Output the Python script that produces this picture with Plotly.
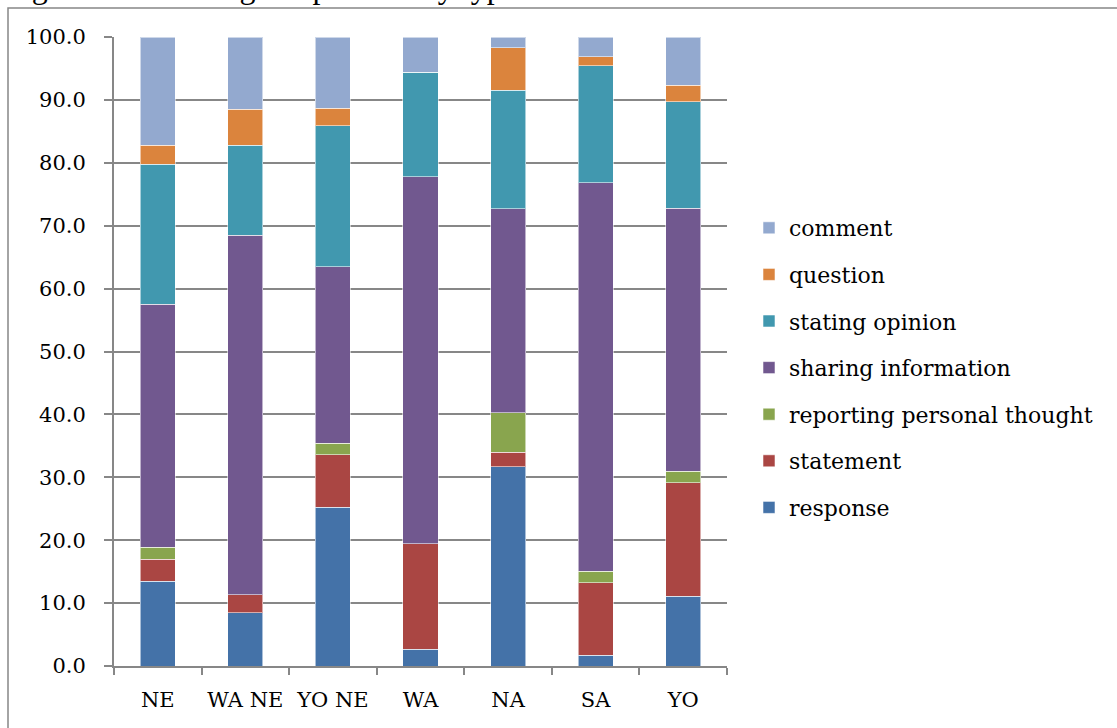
import plotly.graph_objects as go

# Groups on the x axis
groups = ["NE", "WA NE", "YO NE", "WA", "NA", "SA", "YO"]

# Percentage of each utterance type per group (stacked bottom to top)
response = [13.5, 8.5, 25.2, 2.7, 31.7, 1.7, 11.1]
statement = [3.5, 2.8, 8.4, 16.7, 2.3, 11.5, 18.0]
reporting_personal_thought = [1.9, 0.0, 1.8, 0.0, 6.3, 1.9, 1.9]
sharing_information = [38.6, 57.2, 28.1, 58.4, 32.4, 61.7, 41.8]
stating_opinion = [22.3, 14.3, 22.4, 16.6, 18.8, 18.6, 16.9]
question = [3.0, 5.7, 2.8, 0.0, 6.8, 1.5, 2.6]
comment = [17.2, 11.5, 11.3, 5.6, 1.7, 3.1, 7.7]

y_ticks = [0, 10, 20, 30, 40, 50, 60, 70, 80, 90, 100]

series = [
    ("response", response, "#4472A8"),
    ("statement", statement, "#AA4643"),
    ("reporting personal thought", reporting_personal_thought, "#89A54E"),
    ("sharing information", sharing_information, "#71588F"),
    ("stating opinion", stating_opinion, "#4198AF"),
    ("question", question, "#DB843D"),
    ("comment", comment, "#93A9CF"),
]

W, H = 1117, 728
L, R, T, B = 114, 390, 37, 62
pw, ph = W - L - R, H - T - B

def px_x(p):
    return (p - L) / pw

def px_y(p):
    return (H - B - p) / ph

SERIF = "DejaVu Serif"
GRAY = "#878787"

fig = go.Figure()
n = len(series)
for i, (name, vals, color) in enumerate(series):
    fig.add_trace(go.Bar(
        x=groups, y=vals, name=name, legendgroup=name,
        legendrank=n - i,
        marker=dict(color=color, line=dict(color="rgba(255,255,255,0.55)", width=1)),
        width=0.4,
    ))

fig.update_layout(
    barmode="stack",
    width=W, height=H,
    margin=dict(l=L, r=R, t=T, b=B, pad=0, autoexpand=False),
    paper_bgcolor="white", plot_bgcolor="white",
    font=dict(family=SERIF, size=21, color="black"),
    legend=dict(
        x=px_x(749), y=px_y(207), xanchor="left", yanchor="top",
        traceorder="grouped", tracegroupgap=15,
        font=dict(family=SERIF, size=22, color="black"),
        bgcolor="rgba(0,0,0,0)",
    ),
    xaxis=dict(
        type="category", tickson="boundaries",
        ticks="outside", ticklen=7, tickwidth=1.5, tickcolor=GRAY,
        showline=True, linecolor=GRAY, linewidth=2,
        showgrid=False, ticklabelstandoff=14, tickangle=0, automargin=False,
        tickfont=dict(family=SERIF, size=21, color="black"),
    ),
    yaxis=dict(
        range=[0, 100], tickvals=y_ticks, tickformat=".1f",
        ticks="outside", ticklen=8, tickwidth=1.5, tickcolor=GRAY,
        showline=True, linecolor=GRAY, linewidth=2,
        showgrid=True, gridcolor=GRAY, gridwidth=1.5,
        zeroline=False, ticklabelstandoff=14, automargin=False,
        tickfont=dict(family=SERIF, size=21, color="black"),
    ),
    shapes=[dict(
        type="rect", xref="paper", yref="paper",
        x0=px_x(8), x1=px_x(1130), y0=px_y(740), y1=px_y(8),
        line=dict(color=GRAY, width=1.5), fillcolor="rgba(0,0,0,0)",
    )],
    annotations=[dict(
        text="Figure 3: Percentage of patterns by types of utterances.",
        xref="paper", yref="paper", x=px_x(3), y=px_y(7),
        xanchor="left", yanchor="bottom", showarrow=False,
        font=dict(family="Liberation Serif", size=32, color="black"),
    )],
)

fig.write_html("out.html")
